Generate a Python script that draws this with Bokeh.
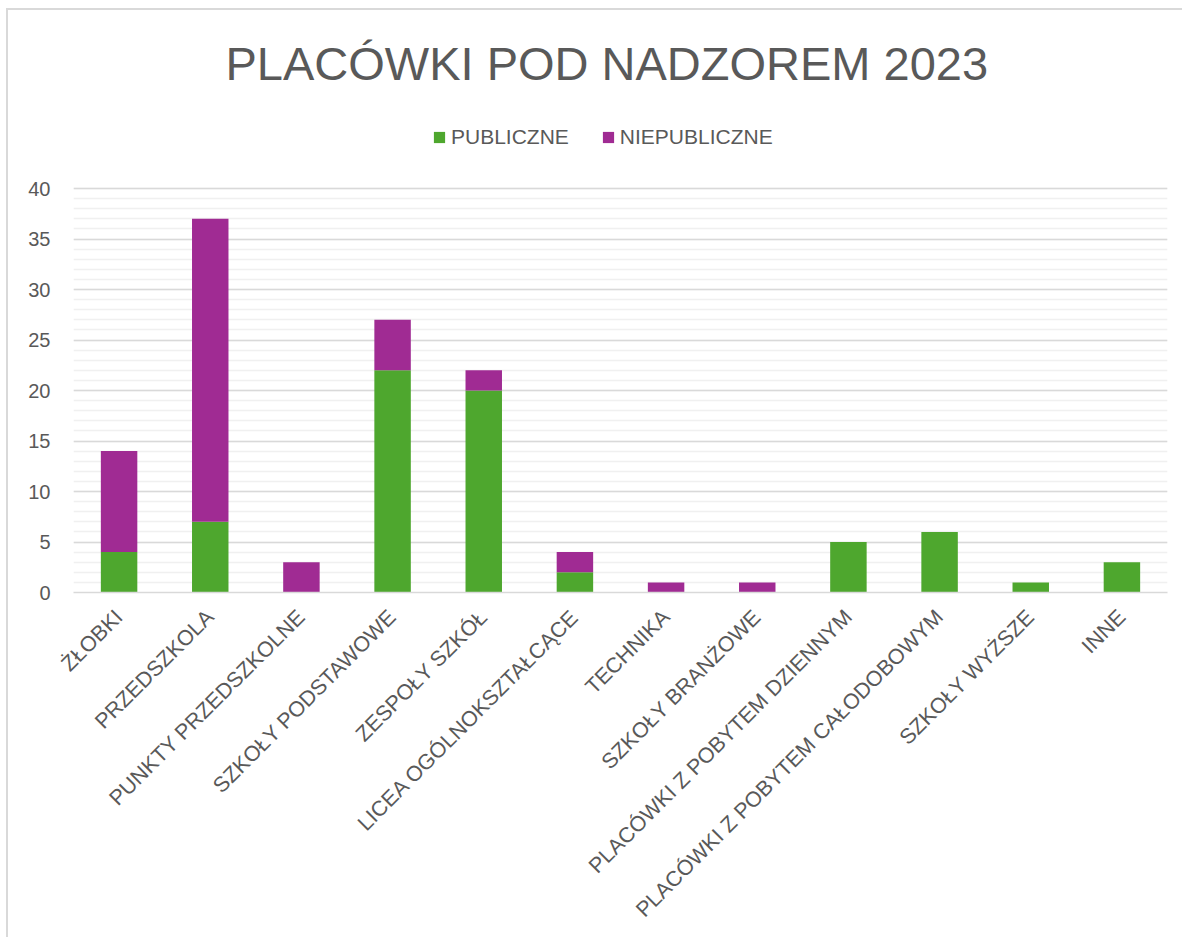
from bokeh.plotting import figure
from bokeh.models import ColumnDataSource, Legend, LegendItem, FixedTicker
from bokeh.embed import file_html
from bokeh.resources import INLINE
import math

categories = ["ŻŁOBKI", "PRZEDSZKOLA", "PUNKTY PRZEDSZKOLNE", "SZKOŁY PODSTAWOWE",
              "ZESPOŁY SZKÓŁ", "LICEA OGÓLNOKSZTAŁCĄCE", "TECHNIKA", "SZKOŁY BRANŻOWE",
              "PLACÓWKI Z POBYTEM DZIENNYM", "PLACÓWKI Z POBYTEM CAŁODOBOWYM",
              "SZKOŁY WYŻSZE", "INNE"]
publiczne = [4, 7, 0, 22, 20, 2, 0, 0, 5, 6, 1, 3]
niepubliczne = [10, 30, 3, 5, 2, 2, 1, 1, 0, 0, 0, 0]
series = ["publiczne", "niepubliczne"]
series_labels = ["PUBLICZNE", "NIEPUBLICZNE"]
colors = ["#4EA72E", "#A02B93"]
y_ticks = [0, 5, 10, 15, 20, 25, 30, 35, 40]
y_minor = list(range(0, 41))

source = ColumnDataSource(dict(cat=categories, publiczne=publiczne, niepubliczne=niepubliczne))

TXT = "#595959"
FONT = "Liberation Sans"

# plotting area: value 0 at y=592, value 40 at y=188 -> 10.1 px per unit;
# the frame extends above 40 to host the legend
px_per_unit = 404 / 40
frame_top = 112
y_end = (592 - frame_top) / px_per_unit

p = figure(x_range=categories, y_range=(0, y_end), width=1176, height=929,
           output_backend="svg", toolbar_location=None,
           min_border_left=65, min_border_right=17, min_border_top=frame_top - 10,
           min_border_bottom=347)
p.styles = {"margin-left": "6px", "margin-top": "8px",
            "border-left": "2px solid #D9D9D9", "border-top": "2px solid #D9D9D9"}

renderers = p.vbar_stack(series, x="cat", width=0.4, color=colors, source=source,
                         line_color=None)

p.title.text = "PLACÓWKI POD NADZOREM 2023"
p.title.text_font = FONT
p.title.text_font_size = "47px"
p.title.text_font_style = "normal"
p.title.text_color = TXT
p.title.align = "left"
p.title.offset = 152
p.title.standoff = 46

legend = Legend(items=[LegendItem(label=series_labels[i], renderers=[renderers[i]]) for i in range(2)],
                orientation="horizontal", location=(359, 443))
legend.label_text_font = FONT
legend.label_text_font_size = "21px"
legend.label_text_color = TXT
legend.glyph_width = 14
legend.glyph_height = 14
legend.label_standoff = 5
legend.spacing = 32
legend.padding = 0
legend.margin = 0
legend.border_line_color = None
legend.background_fill_alpha = 0
p.add_layout(legend, "center")

p.outline_line_color = None
p.x_range.range_padding = 0

p.xgrid.grid_line_color = None
p.ygrid.ticker = FixedTicker(ticks=y_ticks, minor_ticks=y_minor)
p.ygrid.grid_line_color = "#D9D9D9"
p.ygrid.grid_line_width = 1.5
p.ygrid.minor_grid_line_color = "#F0F0F0"
p.ygrid.minor_grid_line_width = 1.5

p.yaxis.ticker = FixedTicker(ticks=y_ticks)
p.yaxis.axis_line_color = None
p.yaxis.major_tick_line_color = None
p.yaxis.minor_tick_line_color = None
p.yaxis.major_label_text_font = FONT
p.yaxis.major_label_text_font_size = "20px"
p.yaxis.major_label_text_color = TXT
p.yaxis.major_label_standoff = 17

p.xaxis.axis_line_color = "#D9D9D9"
p.xaxis.axis_line_width = 1.5
p.xaxis.major_tick_line_color = None
p.xaxis.minor_tick_line_color = None
p.xaxis.major_label_orientation = math.pi / 4
p.xaxis.major_label_text_font = FONT
p.xaxis.major_label_text_font_size = "21.5px"
p.xaxis.major_label_text_color = TXT
p.xaxis.major_label_standoff = 15

open("out.html", "w").write(file_html(p, INLINE))
